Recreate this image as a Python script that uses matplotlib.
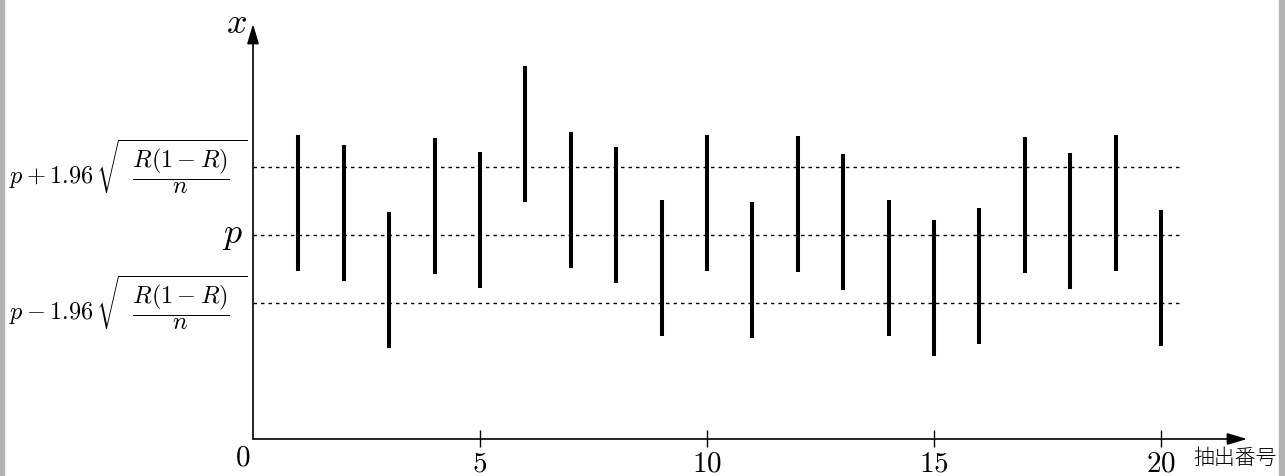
import numpy as np
import matplotlib
matplotlib.use("Agg")
import matplotlib.pyplot as plt
from matplotlib.patches import Rectangle

plt.rcParams['mathtext.fontset'] = 'cm'

# ---------------- data ----------------
sample_no = np.arange(1, 21)
sample_means = np.array([3.47, 3.32, 2.34, 3.42, 3.22, 4.49, 3.52, 3.29, 2.52, 3.47,
                         2.49, 3.45, 3.19, 2.51, 2.22, 2.40, 3.44, 3.20, 3.47, 2.37])
half_width = 1.0
p_level = 3.0
band = 1.0
x_ticks = [5, 10, 15, 20]
x_tick_labels = ['$5$', '$10$', '$15$', '$20$']
upper_label = r'$p+1.96\,\sqrt{\;\;\dfrac{R(1-R)}{n}\;\;}$'
lower_label = r'$p-1.96\,\sqrt{\;\;\dfrac{R(1-R)}{n}\;\;}$'
p_label = r'$p$'
y_name = r'$x$'
x_name = '抽出番号'

# ---------------- figure ----------------
W, H = 1285, 476
fig = plt.figure(figsize=(W / 100, H / 100), dpi=100)
ax = fig.add_axes([0, 0, 1, 1])
ox, sx = 253.0, 45.4   # pixel of x=0, pixels per unit
oy, sy = 439.0, 68.0   # pixel row of y=0, pixels per unit
ax.set_xlim(-ox / sx, (W - ox) / sx)
ax.set_ylim((oy - H) / sy, oy / sy)
ax.axis('off')

# gray side strips
fig.patches.append(Rectangle((0, 0), 4 / W, 1, transform=fig.transFigure,
                             color='#b3b3b3', zorder=0))
fig.patches.append(Rectangle((1279 / W, 0), 6 / W, 1, transform=fig.transFigure,
                             color='#b3b3b3', zorder=0))

# axes with arrows
x_end = (1247 - ox) / sx
y_end = (oy - 24) / sy
arrow = dict(arrowstyle='-|>,head_length=0.6,head_width=0.18', mutation_scale=20,
             lw=1.2, color='black', shrinkA=0, shrinkB=0)
ax.annotate('', xy=(x_end, 0), xytext=(0, 0), arrowprops=arrow)
ax.annotate('', xy=(0, y_end), xytext=(0, 0), arrowprops=arrow)

# reference lines
line_end = (1182 - ox) / sx
ax.hlines([p_level + band, p_level, p_level - band], 0, line_end,
          colors='black', lw=1.0, linestyles=(0, (2.5, 2.9)))

# intervals
ax.vlines(sample_no, sample_means - half_width, sample_means + half_width,
          colors='black', lw=2.9, capstyle='butt', zorder=3)

# ticks
ax.vlines(x_ticks, -8 / sy, 9 / sy, colors='black', lw=1.0)
for xt, lab in zip(x_ticks, x_tick_labels):
    ax.text(xt, -10 / sy, lab, ha='center', va='top', fontsize=21)
ax.text(-10 / sx, -4 / sy, '$0$', ha='center', va='top', fontsize=21)

# labels
ax.text(-17 / sx, (oy - 23) / sy, y_name, ha='center', va='center', fontsize=26)
ax.text(-10 / sx, p_level, p_label, ha='right', va='center', fontsize=26)
ax.text(-5 / sx, p_level + band, upper_label, ha='right', va='center', fontsize=17.5)
ax.text(-5 / sx, p_level - band, lower_label, ha='right', va='center', fontsize=17.5)
ax.text((1235 - ox) / sx, -18.5 / sy, x_name, ha='center', va='center', fontsize=15,
        fontweight='light', family=['Noto Sans CJK JP', 'DejaVu Sans'])

fig.savefig('out.png', dpi=100)
